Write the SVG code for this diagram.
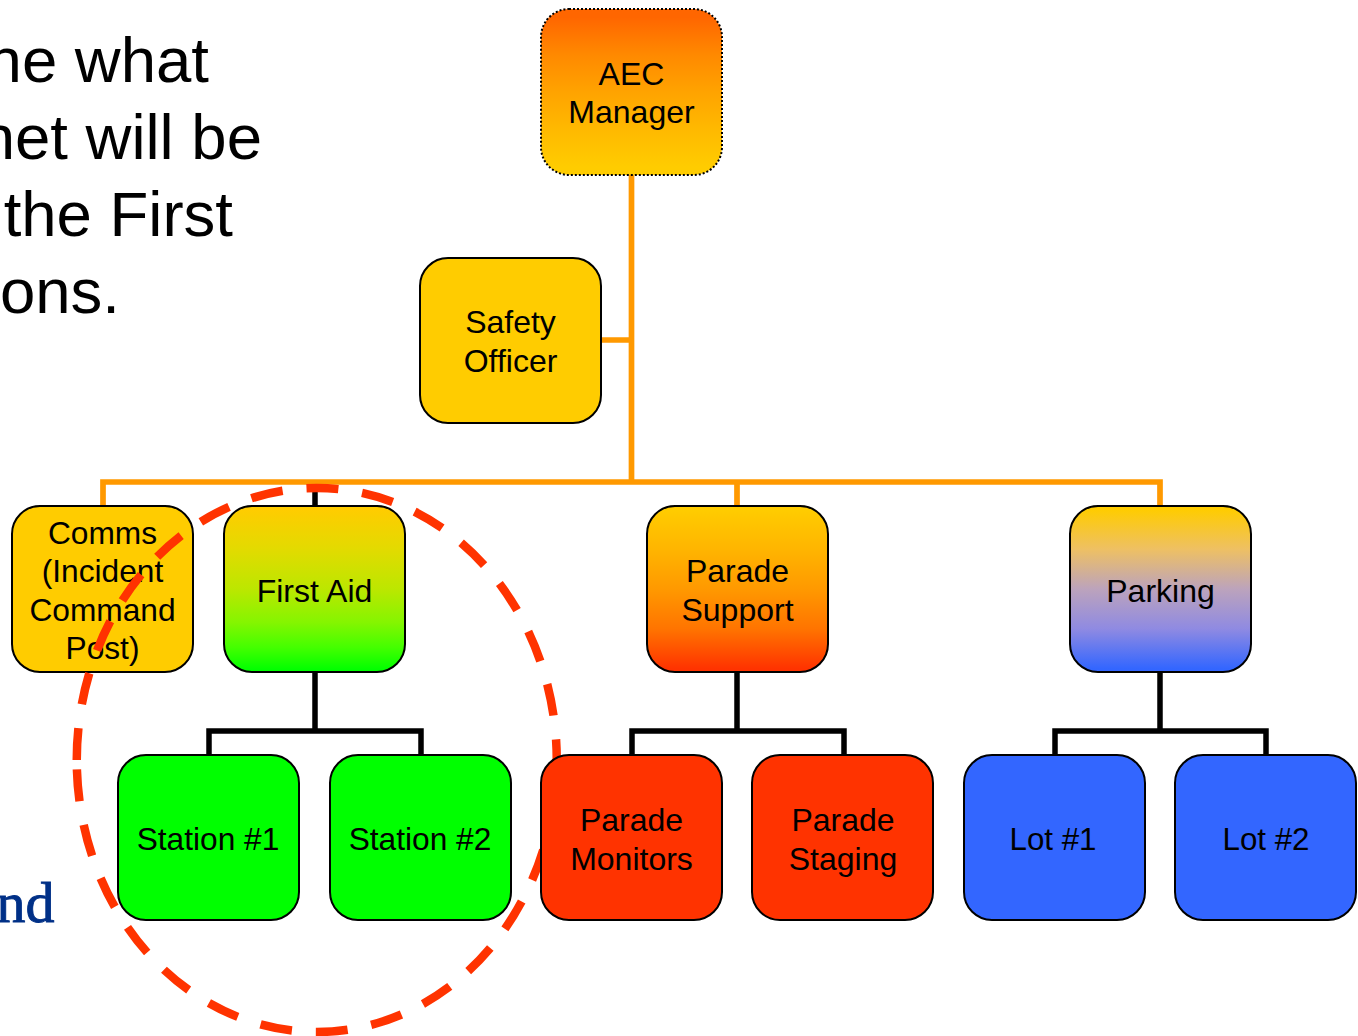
<svg xmlns="http://www.w3.org/2000/svg" width="1358" height="1036" viewBox="0 0 1358 1036">
<defs>
<linearGradient id="gAec" x1="0" y1="0" x2="0" y2="1"><stop offset="0.05" stop-color="#ff6600"/><stop offset="0.275" stop-color="#ff8900"/><stop offset="0.5" stop-color="#ffa300"/><stop offset="0.725" stop-color="#ffb900"/><stop offset="0.95" stop-color="#ffcc00"/></linearGradient>
<linearGradient id="gAid" x1="0" y1="0" x2="0" y2="1"><stop offset="0.02" stop-color="#ffcc00"/><stop offset="0.25" stop-color="#e4da00"/><stop offset="0.5" stop-color="#bce700"/><stop offset="0.7" stop-color="#85f500"/><stop offset="0.85" stop-color="#45ff00"/><stop offset="0.99" stop-color="#00ff00"/></linearGradient>
<linearGradient id="gSup" x1="0" y1="0" x2="0" y2="1"><stop offset="0.02" stop-color="#ffcc00"/><stop offset="0.26" stop-color="#ffb500"/><stop offset="0.5" stop-color="#ff9900"/><stop offset="0.74" stop-color="#ff7400"/><stop offset="0.98" stop-color="#ff3300"/></linearGradient>
<linearGradient id="gPark" x1="0" y1="0" x2="0" y2="1"><stop offset="0.02" stop-color="#ffcc00"/><stop offset="0.26" stop-color="#eec063"/><stop offset="0.5" stop-color="#bca3bc"/><stop offset="0.74" stop-color="#8f8ae2"/><stop offset="0.98" stop-color="#3366ff"/></linearGradient>
</defs>
<style>
.b{stroke:#000;stroke-width:2}
.t{font-family:"Liberation Sans",Arial,sans-serif;font-size:32px;fill:#000;text-anchor:middle}
.s{font-size:31.7px}
.l{font-size:31.3px}
.h{font-family:"Liberation Sans",Arial,sans-serif;font-size:63.5px;fill:#000;text-anchor:end}
.o{fill:none;stroke:#ff9900;stroke-width:5.700}
.k{fill:none;stroke:#000;stroke-width:5.500}
</style>
<g id="slide-text">
<text class="h" x="209" y="82">ne what</text>
<text class="h" x="262" y="159">net will be</text>
<text class="h" x="233" y="236">the First</text>
<text class="h" x="120" y="313">ons.</text>
<text x="54.500" y="922" font-family="'Liberation Serif',serif" font-size="58" fill="#003087" stroke="#003087" stroke-width="0.900" text-anchor="end">nd</text>
</g>
<g id="connectors">
<path class="k" d="M315 482V506M315 672V731M209 755V731H421V755M737 672V731M632 755V731H844V755M1160 672V731M1055 755V731H1266V755"/>
<path class="o" d="M631.500 175V482M601 340H631.500M103 506V482H1160V506M737 482V506"/>
</g>
<g id="aec"><rect x="541" y="9" width="181" height="166" rx="28" fill="url(#gAec)" stroke="#000" stroke-width="2" stroke-dasharray="2 2"/><text class="t" x="631.500" y="85">AEC</text><text class="t" x="631.500" y="123">Manager</text></g>
<g id="safety"><rect class="b" x="420" y="258" width="181" height="165" rx="28" fill="#ffcc00"/><text class="t" x="510.500" y="333">Safety</text><text class="t" x="510.500" y="372">Officer</text></g>
<g id="comms"><rect class="b" x="12" y="506" width="181" height="166" rx="28" fill="#ffcc00"/><text class="t s" x="102.500" y="544">Comms</text><text class="t s" x="102.500" y="582">(Incident</text><text class="t s" x="102.500" y="621">Command</text><text class="t s" x="102.500" y="659">Post)</text></g>
<g id="first-aid"><rect class="b" x="224" y="506" width="181" height="166" rx="28" fill="url(#gAid)"/><text class="t" x="314.500" y="602">First Aid</text></g>
<g id="parade-support"><rect class="b" x="647" y="506" width="181" height="166" rx="28" fill="url(#gSup)"/><text class="t" x="737.500" y="582">Parade</text><text class="t" x="737.500" y="621">Support</text></g>
<g id="parking"><rect class="b" x="1070" y="506" width="181" height="166" rx="28" fill="url(#gPark)"/><text class="t" x="1160.500" y="602">Parking</text></g>
<g id="station1"><rect class="b" x="118" y="755" width="181" height="165" rx="28" fill="#00ff00"/><text class="t s" x="208" y="850">Station #1</text></g>
<g id="station2"><rect class="b" x="330" y="755" width="181" height="165" rx="28" fill="#00ff00"/><text class="t s" x="420" y="850">Station #2</text></g>
<path id="highlight" d="M76.750 760A240 272 0 1 1 556.750 760A240 272 0 1 1 76.750 760" fill="none" stroke="#ff3300" stroke-width="8.500" stroke-dasharray="32 24"/>
<g id="parade-monitors"><rect class="b" x="541" y="755" width="181" height="165" rx="28" fill="#ff3300"/><text class="t" x="631.500" y="831">Parade</text><text class="t" x="631.500" y="870">Monitors</text></g>
<g id="parade-staging"><rect class="b" x="752" y="755" width="181" height="165" rx="28" fill="#ff3300"/><text class="t" x="843" y="831">Parade</text><text class="t" x="843" y="870">Staging</text></g>
<g id="lot1"><rect class="b" x="964" y="755" width="181" height="165" rx="28" fill="#3366ff"/><text class="t l" x="1053" y="850">Lot #1</text></g>
<g id="lot2"><rect class="b" x="1175" y="755" width="181" height="165" rx="28" fill="#3366ff"/><text class="t l" x="1266" y="850">Lot #2</text></g>
</svg>
